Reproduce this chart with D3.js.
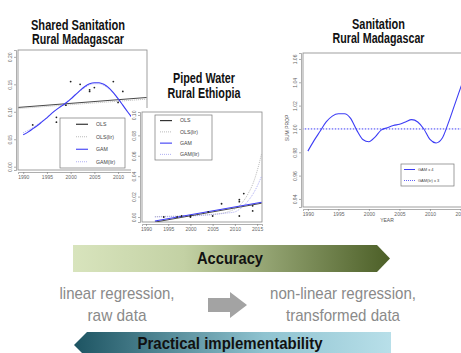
<!DOCTYPE html>
<html>
<head>
<meta charset="utf-8">
<script src="https://cdn.jsdelivr.net/npm/d3@7"></script>
<style>
  body { margin: 0; background: #fff; }
  svg { display: block; }
  text { font-family: "Liberation Sans", Arial, sans-serif; }
</style>
</head>
<body>
<svg id="fig" width="461" height="353"></svg>
<script>
// ---- panel 1: shared sanitation, rural Madagascar
const mdgYears = [1992, 1997, 1997, 1999, 2000, 2002, 2004, 2004, 2005, 2009, 2010, 2011];
const mdgShare = [0.076, 0.090, 0.081, 0.112, 0.155, 0.150, 0.140, 0.137, 0.144, 0.155, 0.117, 0.137];
const mdgFitYears = [1990, 1991, 1992, 1993, 1994, 1995, 1996, 1997, 1998, 1999, 2000, 2001, 2002,
  2003, 2004, 2005, 2006, 2007, 2008, 2009, 2010, 2011, 2012, 2013, 2014];
const mdgGam = [0.058, 0.063, 0.069, 0.075, 0.082, 0.089, 0.097, 0.104, 0.110, 0.116, 0.123, 0.131, 0.139,
  0.146, 0.151, 0.153, 0.153, 0.150, 0.144, 0.135, 0.124, 0.112, 0.100, 0.089, 0.078];
const mdgGamLir = [0.062, 0.066, 0.071, 0.077, 0.083, 0.090, 0.097, 0.104, 0.111, 0.117, 0.124, 0.131, 0.138,
  0.144, 0.149, 0.151, 0.151, 0.148, 0.142, 0.134, 0.123, 0.112, 0.100, 0.089, 0.078];
const mdgOlsYears = [1989, 2016];
const mdgOls = [0.108, 0.126];
const mdgOlsLir = [0.106, 0.123];

// ---- panel 2: piped water, rural Ethiopia
const ethYears = [1994, 1997, 1998, 2000, 2000, 2004, 2005, 2007, 2011, 2011, 2011, 2012, 2014, 2014];
const ethShare = [0.000, 0.000, 0.001, 0.001, 0.000, 0.005, 0.001, 0.013, 0.017, 0.015, 0.001, 0.023, 0.011, 0.006];
const ethLineYears = [1992, 2016];
const ethOls = [-0.005, 0.0135];
const ethGam = [-0.004, 0.0145];
const ethCurveYears = [1992, 1994, 1996, 1998, 2000, 2002, 2004, 2006, 2008, 2010, 2011, 2012, 2013, 2014, 2015, 2016];
const ethOlsLir = [0.0004, 0.0006, 0.0008, 0.001, 0.0013, 0.0017, 0.0023, 0.003, 0.0045, 0.008, 0.011, 0.016, 0.023, 0.032, 0.045, 0.062];
const ethGamLir = [0.000, 0.0002, 0.0004, 0.0007, 0.001, 0.0014, 0.002, 0.0028, 0.0038, 0.005, 0.0075, 0.011, 0.016, 0.022, 0.030, 0.040];

// ---- panel 3: sanitation, rural Madagascar (sum of proportions)
const sanYears = [1990, 1991, 1992, 1993, 1994, 1995, 1996, 1997, 1998, 1999, 2000, 2001, 2002, 2003,
  2004, 2005, 2006, 2007, 2008, 2009, 2010, 2011, 2012, 2013, 2014, 2015, 2016];
const sanGam = [0.981, 0.990, 0.998, 1.006, 1.011, 1.013, 1.013, 1.009, 0.999, 0.991, 0.989, 0.993, 0.999, 1.001,
  1.003, 1.004, 1.006, 1.008, 1.006, 1.000, 0.991, 0.988, 0.992, 1.005, 1.020, 1.035, 1.050];
const sanLirYears = [1989, 2017];
const sanLir = [1.000, 1.000];

const legendFit = ["OLS", "OLS(lir)", "GAM", "GAM(lir)"];
const legendSum = ["GAM x 4", "GAM(lir) x 3"];

const BLUE = "#3c3cf5", LIGHTBLUE = "#9a9af0", GREY = "#a8a8a8";

const svg = d3.select("#fig");
svg.append("rect").attr("width", 461).attr("height", 353).attr("fill", "#fff");
const defs = svg.append("defs");

// narrow headline text: the reference uses a condensed face, so squeeze each line to its width
function label(lines, x, ys, size, widths, opts) {
  const o = opts || {};
  const t = svg.append("text").attr("text-anchor", "middle")
    .attr("font-size", size).attr("font-weight", o.bold ? "bold" : null)
    .attr("fill", o.fill || "#111");
  lines.forEach((s, i) => t.append("tspan").attr("x", x).attr("y", ys[i])
    .attr("textLength", widths[i]).attr("lengthAdjust", "spacingAndGlyphs").text(s));
  return t;
}

// generic R-style plot frame
function frame(g, id, box, xDom, yDom, xTicks, yTicks, yFmt) {
  const x = d3.scaleLinear().domain(xDom).range([box.x0, box.x1]);
  const y = d3.scaleLinear().domain(yDom).range([box.y1, box.y0]);
  defs.append("clipPath").attr("id", id)
    .append("rect").attr("x", box.x0).attr("y", box.y0)
    .attr("width", box.x1 - box.x0).attr("height", box.y1 - box.y0);

  const ax = g.append("g").attr("transform", `translate(0,${box.y1 + 2})`)
    .call(d3.axisBottom(x).tickValues(xTicks).tickFormat(d3.format("d")).tickSize(2).tickPadding(1));
  const ay = g.append("g").attr("transform", `translate(${box.x0 - 2},0)`)
    .call(d3.axisLeft(y).tickValues(yTicks).tickFormat(d3.format(yFmt)).tickSize(2));
  [ax, ay].forEach(a => {
    a.select(".domain").attr("stroke", "#777").attr("stroke-width", 0.6);
    a.selectAll(".tick line").attr("stroke", "#777").attr("stroke-width", 0.6);
    a.selectAll("text").attr("fill", "#666").attr("font-size", 5);
  });
  ay.selectAll("text")
    .attr("x", 0).attr("dy", 0).attr("text-anchor", "middle")
    .attr("transform", "translate(-4,0) rotate(-90)");

  g.append("rect").attr("x", box.x0).attr("y", box.y0)
    .attr("width", box.x1 - box.x0).attr("height", box.y1 - box.y0)
    .attr("fill", "none").attr("stroke", "#888").attr("stroke-width", 0.8);
  const plot = g.append("g").attr("clip-path", `url(#${id})`);
  return { x, y, plot };
}

function series(p, xs, ys, color, width, dash) {
  const line = d3.line().x((d, i) => p.x(xs[i])).y(d => p.y(d)).curve(d3.curveMonotoneX);
  p.plot.append("path").datum(ys).attr("d", line)
    .attr("fill", "none").attr("stroke", color).attr("stroke-width", width)
    .attr("stroke-dasharray", dash || null);
}

function points(p, xs, ys) {
  p.plot.selectAll("circle.pt").data(ys).join("circle").attr("class", "pt")
    .attr("cx", (d, i) => p.x(xs[i])).attr("cy", d => p.y(d)).attr("r", 0.9).attr("fill", "#222");
}

function legend(g, box, labels, styles, fs) {
  g.append("rect").attr("x", box.x).attr("y", box.y).attr("width", box.w).attr("height", box.h)
    .attr("fill", "#fff").attr("stroke", "#777").attr("stroke-width", 0.7);
  const step = box.h / labels.length;
  labels.forEach((lab, i) => {
    const yy = box.y + step * (i + 0.5);
    const s = styles[i];
    g.append("line").attr("x1", box.x + box.lx0).attr("x2", box.x + box.lx1)
      .attr("y1", yy).attr("y2", yy).attr("stroke", s.c).attr("stroke-width", s.w)
      .attr("stroke-dasharray", s.d || null);
    g.append("text").attr("x", box.x + box.tx).attr("y", yy).attr("dy", "0.35em")
      .attr("font-size", fs).attr("fill", "#444").text(lab);
  });
}

const fitStyles = [
  { c: "#222", w: 1.1 }, { c: GREY, w: 0.8, d: "1,1" },
  { c: BLUE, w: 1.1 }, { c: LIGHTBLUE, w: 0.8, d: "1,1" }
];

// ---- panel 1
label(["Shared Sanitation", "Rural Madagascar"], 78, [29.8, 44.3], 14.5, [94, 92], { bold: true });
const g1 = svg.append("g");
const p1 = frame(g1, "c1", { x0: 18, x1: 147, y0: 50, y1: 170 }, [1988.9, 2016.1], [-0.006, 0.2125],
  [1990, 1995, 2000, 2005, 2010], [0, 0.05, 0.10, 0.15, 0.20], ".2f");
series(p1, mdgOlsYears, mdgOlsLir, GREY, 0.8, "1,1");
series(p1, mdgOlsYears, mdgOls, "#333", 0.9);
series(p1, mdgFitYears, mdgGamLir, LIGHTBLUE, 0.8, "1,1");
series(p1, mdgFitYears, mdgGam, BLUE, 1.1);
points(p1, mdgYears, mdgShare);
legend(g1, { x: 60, y: 118, w: 65, h: 50, lx0: 16, lx1: 28, tx: 36 }, legendFit, fitStyles, 5.2);

// ---- panel 2 (sits on top of panel 1)
svg.append("rect").attr("x", 131).attr("y", 108).attr("width", 145).attr("height", 130).attr("fill", "#fff");
label(["Piped Water", "Rural Ethiopia"], 204, [83, 97.5], 14.5, [62, 73], { bold: true });
const g2 = svg.append("g");
const p2 = frame(g2, "c2", { x0: 142, x1: 262, y0: 112, y1: 222 }, [1989.1, 2016.1], [-0.0049, 0.1029],
  [1990, 1995, 2000, 2005, 2010, 2015], [0, 0.02, 0.04, 0.06, 0.08, 0.10], ".2f");
series(p2, ethCurveYears, ethOlsLir, GREY, 0.8, "1,1");
series(p2, ethCurveYears, ethGamLir, LIGHTBLUE, 0.8, "1,1");
series(p2, ethLineYears, ethOls, "#333", 0.9);
series(p2, ethLineYears, ethGam, BLUE, 1.1);
points(p2, ethYears, ethShare);
legend(g2, { x: 155, y: 115, w: 57, h: 45, lx0: 5, lx1: 17, tx: 25 }, legendFit, fitStyles, 5.2);

// ---- panel 3
label(["Sanitation", "Rural Madagascar"], 378.5, [28.5, 43], 14.5, [53, 92], { bold: true });
const g3 = svg.append("g");
const p3 = frame(g3, "c3", { x0: 303, x1: 480, y0: 53, y1: 207 }, [1989.2, 2018.2], [0.9331, 1.0651],
  [1990, 1995, 2000, 2005, 2010, 2015], [0.94, 0.96, 0.98, 1.00, 1.02, 1.04, 1.06], ".2f");
series(p3, sanLirYears, sanLir, BLUE, 1, "1.5,1.5");
series(p3, sanYears, sanGam, BLUE, 1.1);
legend(g3, { x: 401, y: 164, w: 53, h: 22, lx0: 3, lx1: 14, tx: 17 }, legendSum,
  [{ c: BLUE, w: 1 }, { c: BLUE, w: 0.8, d: "1,1" }], 4);
g3.append("text").attr("x", 387).attr("y", 222).attr("text-anchor", "middle")
  .attr("font-size", 5).attr("fill", "#555").text("YEAR");
g3.append("text").attr("transform", "translate(289,128) rotate(-90)").attr("text-anchor", "middle")
  .attr("font-size", 5).attr("fill", "#555").text("SUM PROP");

// ---- bottom arrows
const gradA = defs.append("linearGradient").attr("id", "gA");
gradA.append("stop").attr("offset", "0%").attr("stop-color", "#d8e4bd");
gradA.append("stop").attr("offset", "35%").attr("stop-color", "#c3d1a4");
gradA.append("stop").attr("offset", "100%").attr("stop-color", "#4c5f27");
const gradP = defs.append("linearGradient").attr("id", "gP");
gradP.append("stop").attr("offset", "0%").attr("stop-color", "#1d5462");
gradP.append("stop").attr("offset", "60%").attr("stop-color", "#8fc3d0");
gradP.append("stop").attr("offset", "100%").attr("stop-color", "#b8dfe9");

const arrow = d3.line();
svg.append("path").attr("d", arrow([[73, 245], [377, 245], [390, 258.5], [377, 272], [73, 272]]) + "Z")
  .attr("fill", "url(#gA)");
label(["Accuracy"], 230, [264], 17, [66], { bold: true });

svg.append("path").attr("d", arrow([[74, 345], [87, 332], [391, 332], [391, 358], [87, 358]]) + "Z")
  .attr("fill", "url(#gP)");
label(["Practical implementability"], 230, [349], 17, [185], { bold: true });

const midText = [["linear regression,", "raw data"], ["non-linear regression,", "transformed data"]];
const midWidth = [[115, 59], [146, 114]];
const midX = [117, 343];
midText.forEach((lines, k) => label(lines, midX[k], [299, 321], 17, midWidth[k], { fill: "#8a8a8a" }));

svg.append("path").attr("d", arrow([[208, 298], [230, 298], [230, 292], [247, 305], [230, 318], [230, 312], [208, 312]]) + "Z")
  .attr("fill", "#a3a3a3");
</script>
</body>
</html>
